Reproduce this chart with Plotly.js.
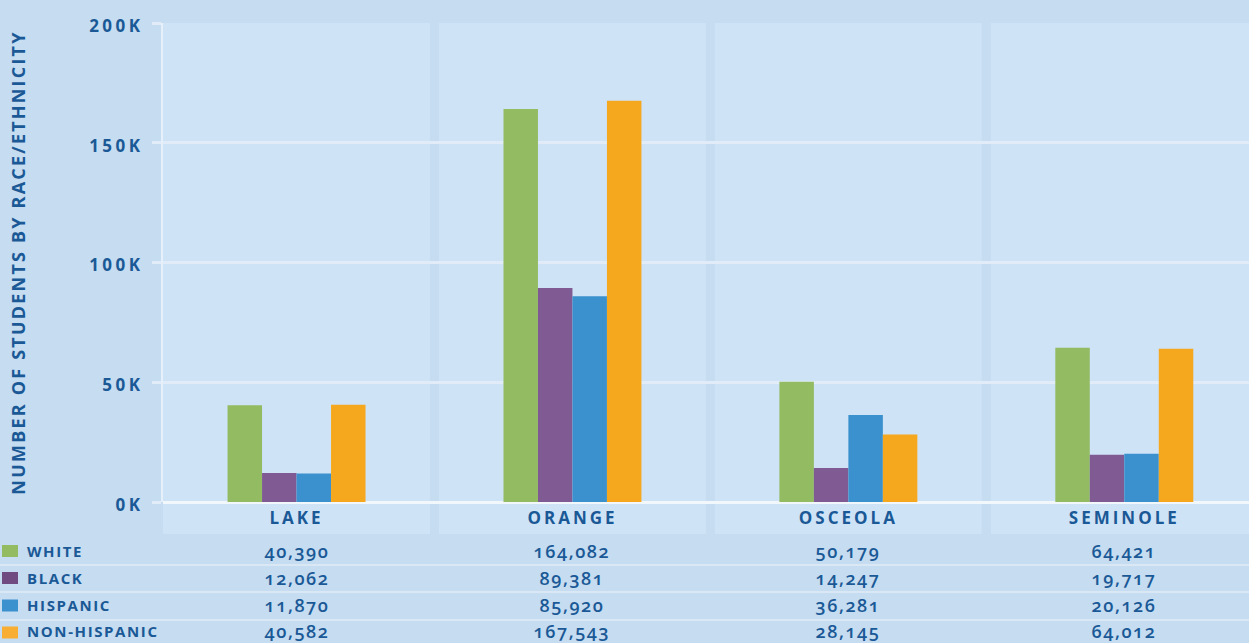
<!DOCTYPE html>
<html>
<head>
<meta charset="utf-8">
<script src="https://cdn.plot.ly/plotly-3.0.1.min.js"></script>
<style>
  html, body { margin: 0; padding: 0; background: #c5dcf1; }
  #chart { width: 1249px; height: 643px; }
  .xtick text { letter-spacing: 3px; }
  .ytick text { letter-spacing: 3.5px; }
  .ytitle { letter-spacing: 2.2px; }
  .annotation-text { letter-spacing: 1.6px; }
</style>
</head>
<body>
<div id="chart"></div>
<script>
// ---- data ----
const categories = ['LAKE', 'ORANGE', 'OSCEOLA', 'SEMINOLE'];
const seriesNames = ['WHITE', 'BLACK', 'HISPANIC', 'NON-HISPANIC'];
const white = [40390, 164082, 50179, 64421];
const black = [12062, 89381, 14247, 19717];
const hispanic = [11870, 85920, 36281, 20126];
const nonHispanic = [40582, 167543, 28145, 64012];
const yTickVals = [0, 50000, 100000, 150000, 200000];
const yTickText = ['0K', '50K', '100K', '150K', '200K'];
const yTitle = 'NUMBER OF STUDENTS BY RACE/ETHNICITY';

// ---- style ----
const seriesValues = [white, black, hispanic, nonHispanic];
const barColors = ['#93bb62', '#7f5a93', '#3a91cd', '#f5a81d'];
const squareColors = ['#93bb62', '#704b82', '#3a91cd', '#f7ae33'];
const textColor = '#1a5996';
const outerBg = '#c5dcf1';
const panelBg = '#cfe3f7';
const fontFam = '"Open Sans", "Noto Sans", sans-serif';

const W = 1249, H = 643, mL = 163, mR = 0, mT = 23, mB = 141;
const plotH = H - mT - mB, plotW = W - mL - mR;
const xRange = [-0.484, 3.452];
const py = p => (H - mB - p) / plotH;          // pixel y -> paper y
const px = p => (p - mL) / plotW;              // pixel x -> paper x
const xv = v => (v - xRange[0]) / (xRange[1] - xRange[0]); // x value -> paper x

const traces = seriesNames.map((name, i) => ({
  type: 'bar',
  name: name,
  x: categories,
  y: seriesValues[i],
  marker: { color: barColors[i], line: { width: 0 } },
  hoverinfo: 'none'
}));

const shapes = [];
// category label band
shapes.push({ type: 'rect', xref: 'paper', yref: 'paper', x0: 0, x1: 1, y0: py(534), y1: 0,
  fillcolor: panelBg, line: { width: 0 }, layer: 'below' });
// separators between categories
for (let b = 0; b < categories.length; b++) {
  const c = xv(b + 0.5);
  const half = 4.5 / plotW;
  shapes.push({ type: 'rect', xref: 'paper', yref: 'paper', x0: c - half, x1: c + half,
    y0: py(534), y1: 1, fillcolor: outerBg, line: { width: 0 }, layer: 'below' });
}
// row separator lines
[565, 592, 620].forEach(yy => {
  shapes.push({ type: 'line', xref: 'paper', yref: 'paper', x0: px(0), x1: 1.01, y0: py(yy), y1: py(yy),
    line: { color: '#dae8f6', width: 2 }, layer: 'below' });
});
const rowCenters = [551, 578, 605.5, 632.5];
const textCenters = [550.5, 577.5, 605, 631];
// legend squares
seriesNames.forEach((n, i) => {
  shapes.push({ type: 'rect', xref: 'paper', yref: 'paper', x0: px(2), x1: px(18),
    y0: py(rowCenters[i] + 6), y1: py(rowCenters[i] - 6), fillcolor: squareColors[i], line: { width: 0 } });
});

const annotations = [];
seriesNames.forEach((n, i) => {
  annotations.push({ xref: 'paper', yref: 'paper', x: px(25), y: py(textCenters[i]), xanchor: 'left', yanchor: 'middle',
    text: n, showarrow: false, font: { family: fontFam, size: 15, color: textColor, weight: 700 } });
  categories.forEach((c, j) => {
    annotations.push({ xref: 'x', yref: 'paper', x: c, y: py(textCenters[i]), xanchor: 'center', yanchor: 'middle',
      text: seriesValues[i][j].toLocaleString('en-US'), showarrow: false,
      font: { family: fontFam, size: 18, color: textColor, weight: 600 } });
  });
});

const layout = {
  width: W, height: H,
  margin: { l: mL, r: mR, t: mT, b: mB, pad: 0 },
  paper_bgcolor: outerBg,
  plot_bgcolor: panelBg,
  showlegend: false,
  barmode: 'group',
  bargap: 0.5,
  bargroupgap: 0,
  xaxis: {
    type: 'category',
    range: xRange,
    showgrid: false,
    zeroline: false,
    showline: false,
    ticks: '',
    ticklabelstandoff: 4,
    tickfont: { family: fontFam, size: 17, color: textColor, weight: 700 },
    fixedrange: true
  },
  yaxis: {
    range: [0, 200000],
    tickvals: yTickVals,
    ticktext: yTickText,
    tickfont: { family: fontFam, size: 17, color: textColor, weight: 700 },
    ticklabelstandoff: 5,
    ticklabelshift: 3,
    showgrid: true,
    gridcolor: '#e1ecf8',
    gridwidth: 3,
    zeroline: true,
    zerolinecolor: '#f2f7fc',
    zerolinewidth: 3,
    showline: true,
    linecolor: '#e6f0fa',
    linewidth: 2,
    ticks: 'outside',
    ticklen: 9,
    tickwidth: 3,
    tickcolor: '#e1ecf8',
    title: { text: yTitle, standoff: 59, font: { family: fontFam, size: 18, color: textColor, weight: 700 } },
    fixedrange: true
  },
  shapes: shapes,
  annotations: annotations
};

Plotly.newPlot('chart', traces, layout, { displayModeBar: false, staticPlot: true }).then(() => {
  document.querySelectorAll('g.annotation').forEach(g => {
    const t = g.querySelector('.annotation-text');
    if (t && /^[0-9,]+$/.test(t.textContent)) t.style.fontVariantNumeric = 'oldstyle-nums';
  });
});
</script>
</body>
</html>
